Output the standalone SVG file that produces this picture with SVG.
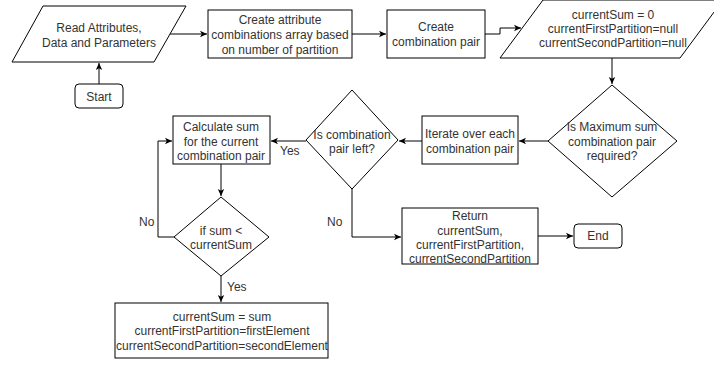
<svg xmlns="http://www.w3.org/2000/svg" width="714" height="366" viewBox="0 0 714 366">
<defs>
<style>
.s{fill:#fff;stroke:#000;stroke-width:1}
.t{font-family:"Liberation Sans",Arial,sans-serif;font-size:12px;fill:#333;text-anchor:middle}
.c{fill:none;stroke:#000;stroke-width:1}
.l{font-family:"Liberation Sans",Arial,sans-serif;font-size:12px;fill:#333}
</style>
<marker id="a" markerWidth="8" markerHeight="8" refX="7" refY="4" orient="auto" markerUnits="userSpaceOnUse">
<path d="M0,0.8 L7,4 L0,7.2 L1.8,4 Z" fill="#000"/>
</marker>
</defs>
<rect width="714" height="366" fill="#fff"/>
<g id="connectors">
<path class="c" d="M99,84 V63" marker-end="url(#a)"/>
<path class="c" d="M170,34 H207" marker-end="url(#a)"/>
<path class="c" d="M352,34 H386" marker-end="url(#a)"/>
<path class="c" d="M485,34 H500 V28 H521" marker-end="url(#a)"/>
<path class="c" d="M612,58 V84" marker-end="url(#a)"/>
<path class="c" d="M548,141 H519" marker-end="url(#a)"/>
<path class="c" d="M422,141 H399" marker-end="url(#a)"/>
<path class="c" d="M306,141 H271" marker-end="url(#a)"/>
<text class="l" x="280" y="155">Yes</text>
<path class="c" d="M221,164 V196" marker-end="url(#a)"/>
<path class="c" d="M174,237 H158 V141 H172" marker-end="url(#a)"/>
<text class="l" x="139" y="226">No</text>
<path class="c" d="M352,189 V237 H401" marker-end="url(#a)"/>
<text class="l" x="327" y="226">No</text>
<path class="c" d="M538,236 H573" marker-end="url(#a)"/>
<path class="c" d="M221,276 V302" marker-end="url(#a)"/>
<text class="l" x="227" y="291">Yes</text>
</g>
<g id="start">
<rect class="s" x="75" y="84" width="48" height="24" rx="4"/>
<text class="t" x="99" y="101">Start</text>
</g>
<g id="read">
<polygon class="s" points="43,6 186,6 154,62 12,62"/>
<text class="t" x="99" y="32">Read Attributes,</text>
<text class="t" x="99" y="47">Data and Parameters</text>
</g>
<g id="createArray">
<rect class="s" x="208" y="10" width="144" height="48"/>
<text class="t" x="280" y="24">Create attribute</text>
<text class="t" x="280" y="39">combinations array based</text>
<text class="t" x="280" y="54">on number of partition</text>
</g>
<g id="createPair">
<rect class="s" x="387" y="10" width="98" height="48"/>
<text class="t" x="436" y="31">Create</text>
<text class="t" x="436" y="46">combination pair</text>
</g>
<g id="init">
<polygon class="s" points="543,0 723,0 680,58 500,58"/>
<text class="t" x="613" y="19">currentSum = 0</text>
<text class="t" x="613" y="33">currentFirstPartition=null</text>
<text class="t" x="613" y="47">currentSecondPartition=null</text>
</g>
<g id="maxSum">
<polygon class="s" points="612,85 677,141 612,197 548,141"/>
<text class="t" x="612" y="131">Is Maximum sum</text>
<text class="t" x="612" y="146">combination pair</text>
<text class="t" x="612" y="160">required?</text>
</g>
<g id="iterate">
<rect class="s" x="422" y="116" width="96" height="48"/>
<text class="t" x="470" y="138">Iterate over each</text>
<text class="t" x="470" y="153">combination pair</text>
</g>
<g id="pairLeft">
<polygon class="s" points="352,90 398,140 352,189 306,140"/>
<text class="t" x="352" y="139">Is combination</text>
<text class="t" x="352" y="153">pair left?</text>
</g>
<g id="calc">
<rect class="s" x="173" y="116" width="97" height="48"/>
<text class="t" x="221" y="131">Calculate sum</text>
<text class="t" x="221" y="146">for the current</text>
<text class="t" x="221" y="160">combination pair</text>
</g>
<g id="ifSum">
<polygon class="s" points="221,197 269,237 221,276 174,237"/>
<text class="t" x="221" y="235">if sum &lt;</text>
<text class="t" x="221" y="249">currentSum</text>
</g>
<g id="update">
<rect class="s" x="115" y="303" width="213" height="55"/>
<text class="t" x="222" y="321">currentSum = sum</text>
<text class="t" x="222" y="335">currentFirstPartition=firstElement</text>
<text class="t" x="222" y="350">currentSecondPartition=secondElement</text>
</g>
<g id="return">
<rect class="s" x="402" y="208" width="136" height="56"/>
<text class="t" x="470" y="220">Return</text>
<text class="t" x="470" y="235">currentSum,</text>
<text class="t" x="470" y="249">currentFirstPartition,</text>
<text class="t" x="470" y="263">currentSecondPartition</text>
</g>
<g id="end">
<rect class="s" x="574" y="224" width="48" height="24" rx="4"/>
<text class="t" x="598" y="240">End</text>
</g>
</svg>
